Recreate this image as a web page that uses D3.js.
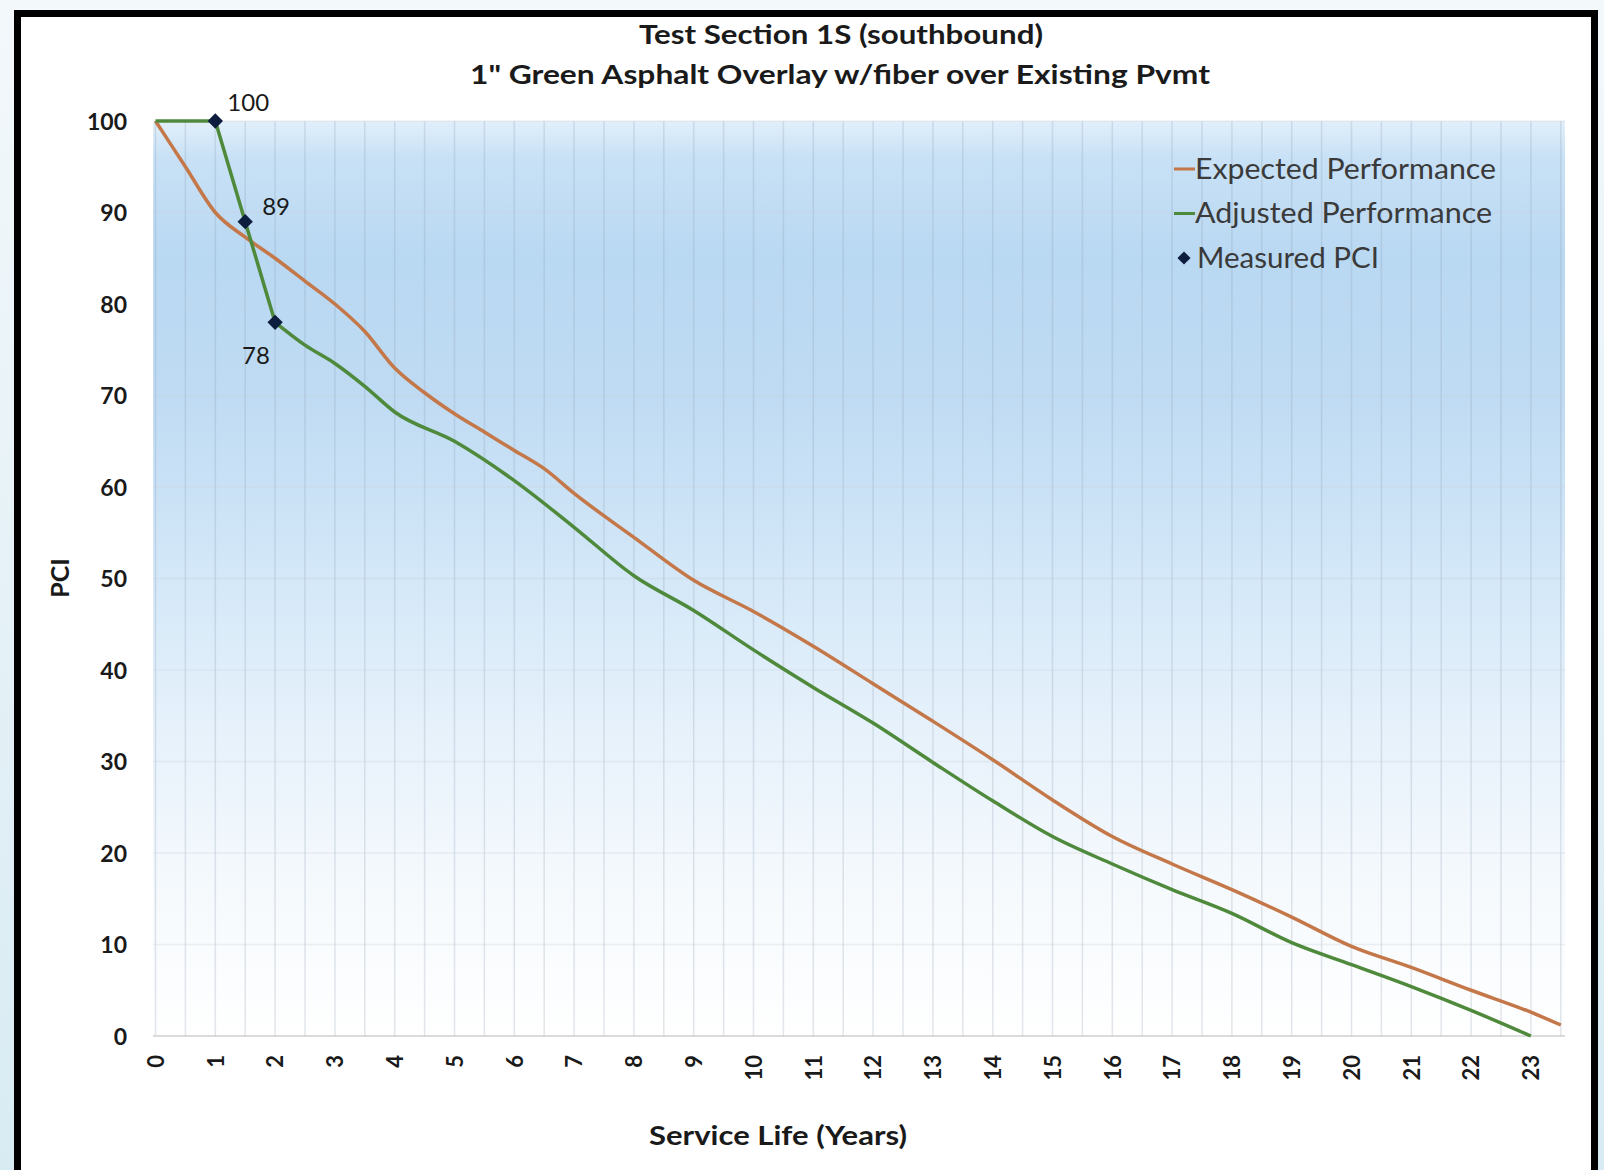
<!DOCTYPE html>
<html>
<head>
<meta charset="utf-8">
<style>
  body { margin: 0; background: #eef5f9; }
  svg { display: block; }
  text { font-family: Lato, "Open Sans", sans-serif; }
</style>
</head>
<body>
<svg></svg>
<script src="https://cdn.jsdelivr.net/npm/d3@7"></script>
<script>

  // expected performance curve (orange)
  const expYears = [0, 0.5, 1, 1.5, 2, 2.5, 3, 3.5, 4, 4.5, 5, 5.5, 6, 6.5, 7, 8, 9, 10, 11, 12, 13, 14, 15, 16, 17, 18, 19, 20, 21, 22, 23, 23.5]
  const expPCI = [100, 95, 90, 87.3, 85, 82.5, 80, 77, 73, 70.3, 68, 66, 64, 62, 59.3, 54.5, 49.8, 46.4, 42.6, 38.5, 34.4, 30.2, 25.8, 21.8, 18.8, 16, 13, 9.8, 7.5, 5, 2.6, 1.2]

  // adjusted performance curve (green)
  const adjYears = [0, 0.5, 1, 1.5, 2, 2.5, 3, 3.5, 4, 5, 6, 7, 8, 9, 10, 11, 12, 13, 14, 15, 16, 17, 18, 19, 20, 21, 22, 23]
  const adjPCI = [100, 100, 100, 89, 78, 75.5, 73.5, 71, 68.2, 65, 60.7, 55.6, 50.3, 46.5, 42.2, 38.1, 34.2, 29.9, 25.7, 21.8, 18.8, 16, 13.4, 10.2, 7.8, 5.4, 2.8, 0]

  // measured PCI points
  const measYears = [1, 1.5, 2]
  const measPCI = [100, 89, 78]

  const xTicks = d3.range(0, 24)
  const yTicks = [0, 10, 20, 30, 40, 50, 60, 70, 80, 90, 100]
  const gridYears = d3.range(0, 24, 0.5)

  const legendLabels = ["Expected Performance", "Adjusted Performance", "Measured PCI"]

  const width = 1604,
        height = 1170,
        colors = {expected: '#c4784a',
                  adjusted: '#4f8a3c',
                  marker: '#0d1d3d',
                  text: '#1a1a1a'}

  const xScale = d3.scaleLinear()
    .domain([0, 23.5])
    .range([155.5, 155.5 + 23.5 * 59.8])

  const yScale = d3.scaleLinear()
    .domain([0, 100])
    .range([1036, 121])

  const svg = d3.select("svg")
    .attr("width", width)
    .attr("height", height)

  const defs = svg.append("defs")

  const pageGrad = defs.append("linearGradient")
    .attr("id", "pageGrad")
    .attr("x1", 0).attr("y1", 0).attr("x2", 0).attr("y2", 1)
  pageGrad.append("stop").attr("offset", "0%").attr("stop-color", "#f3f8fb")
  pageGrad.append("stop").attr("offset", "100%").attr("stop-color", "#d8ebf3")

  const plotGrad = defs.append("linearGradient")
    .attr("id", "plotGrad")
    .attr("x1", 0).attr("y1", 0).attr("x2", 0).attr("y2", 1)
  const plotStops = [
    ["0%", "#e2effa"], ["4%", "#c8e1f6"], ["15%", "#b9d8f2"], ["30%", "#bfdbf3"],
    ["50%", "#d4e8f8"], ["68%", "#e8f2fb"], ["85%", "#f6fafd"], ["100%", "#ffffff"]]
  plotStops.forEach(s => plotGrad.append("stop").attr("offset", s[0]).attr("stop-color", s[1]))

  // page and frame
  svg.append("rect")
    .attr("width", width).attr("height", height)
    .attr("fill", "url(#pageGrad)")
  svg.append("rect")
    .attr("x", 17.5).attr("y", 13.5)
    .attr("width", 1577).attr("height", 1200)
    .attr("fill", "#ffffff")
    .attr("stroke", "#000")
    .attr("stroke-width", 7)

  // plot area
  const plotLeft = xScale(-0.04), plotRight = xScale(23.57)
  svg.append("rect")
    .attr("x", plotLeft).attr("y", yScale(100))
    .attr("width", plotRight - plotLeft)
    .attr("height", yScale(0) - yScale(100))
    .attr("fill", "url(#plotGrad)")

  // gridlines
  svg.append("g").selectAll("line")
    .data(gridYears)
    .join("line")
      .attr("x1", d => xScale(d)).attr("x2", d => xScale(d))
      .attr("y1", yScale(100)).attr("y2", yScale(0))
      .attr("stroke", "rgba(140,155,175,0.25)")
      .attr("stroke-width", 1.5)
  svg.append("g").selectAll("line")
    .data(yTicks)
    .join("line")
      .attr("x1", plotLeft).attr("x2", plotRight)
      .attr("y1", d => yScale(d)).attr("y2", d => yScale(d))
      .attr("stroke", d => d == 0 ? "rgba(190,190,190,0.7)" : "rgba(200,205,215,0.3)")
      .attr("stroke-width", 1.5)

  // y axis
  const yAxis = d3.axisLeft(yScale)
    .tickValues(yTicks)
    .tickSize(0)
    .tickPadding(0)
  const gY = svg.append("g")
    .attr("transform", `translate(127, 0)`)
    .call(yAxis)
  gY.select(".domain").remove()
  gY.selectAll("text")
    .style("font-size", "23px")
    .style("font-weight", "bold")
    .attr("fill", colors.text)
    .attr("dy", "0.35em")

  // x axis
  const xAxis = d3.axisBottom(xScale)
    .tickValues(xTicks)
    .tickSize(0)
    .tickFormat(d3.format("d"))
  const gX = svg.append("g")
    .attr("transform", `translate(0, 1055)`)
    .call(xAxis)
  gX.select(".domain").remove()
  gX.selectAll("text")
    .style("font-size", "22px")
    .style("font-weight", "bold")
    .attr("fill", colors.text)
    .attr("text-anchor", "end")
    .attr("y", 0)
    .attr("dy", "0.35em")
    .attr("transform", "rotate(-90)")

  // lines
  const smooth = d3.line()
    .x(d => xScale(d[0]))
    .y(d => yScale(d[1]))
    .curve(d3.curveMonotoneX)
  const straight = d3.line()
    .x(d => xScale(d[0]))
    .y(d => yScale(d[1]))

  svg.append("path")
    .datum(expYears.map((d, i) => [d, expPCI[i]]))
    .attr("d", smooth)
    .attr("fill", "none")
    .attr("stroke", colors.expected)
    .attr("stroke-width", 3.5)

  // first year of the adjusted line stays flat, then straight drops through the measurements
  const adjData = adjYears.map((d, i) => [d, adjPCI[i]])
  svg.append("path")
    .datum(adjData.filter(d => d[0] <= 2))
    .attr("d", straight)
    .attr("fill", "none")
    .attr("stroke", colors.adjusted)
    .attr("stroke-width", 3.5)
  svg.append("path")
    .datum(adjData.filter(d => d[0] >= 2))
    .attr("d", smooth)
    .attr("fill", "none")
    .attr("stroke", colors.adjusted)
    .attr("stroke-width", 3.5)

  // measured markers
  const diamond = d3.symbol().type(d3.symbolDiamond2).size(150)
  svg.append("g").selectAll("path")
    .data(measYears.map((d, i) => [d, measPCI[i]]))
    .join("path")
      .attr("d", diamond)
      .attr("transform", d => `translate(${xScale(d[0])}, ${yScale(d[1])})`)
      .attr("fill", colors.marker)

  const labelOffsets = [[12, -18], [17, -15], [-33, 33]]
  svg.append("g").selectAll("text")
    .data(measYears.map((d, i) => [d, measPCI[i]]))
    .join("text")
      .attr("x", (d, i) => xScale(d[0]) + labelOffsets[i][0])
      .attr("y", (d, i) => yScale(d[1]) + labelOffsets[i][1])
      .attr("dy", "0.35em")
      .style("font-size", "24px")
      .attr("fill", colors.text)
      .text(d => d[1])

  // titles
  svg.append("text")
    .attr("x", 841).attr("y", 44)
    .attr("text-anchor", "middle")
    .style("font-size", "26px")
    .style("font-weight", "bold")
    .attr("fill", colors.text)
    .attr("textLength", 404)
    .attr("lengthAdjust", "spacingAndGlyphs")
    .text("Test Section 1S (southbound)")
  svg.append("text")
    .attr("x", 840).attr("y", 84)
    .attr("text-anchor", "middle")
    .style("font-size", "26px")
    .style("font-weight", "bold")
    .attr("fill", colors.text)
    .attr("textLength", 740)
    .attr("lengthAdjust", "spacingAndGlyphs")
    .text("1\"  Green Asphalt Overlay w/fiber over Existing Pvmt")

  svg.append("text")
    .attr("transform", `translate(69, 578) rotate(-90)`)
    .attr("text-anchor", "middle")
    .style("font-size", "25px")
    .style("font-weight", "bold")
    .attr("fill", colors.text)
    .text("PCI")

  svg.append("text")
    .attr("x", 778).attr("y", 1145)
    .attr("text-anchor", "middle")
    .style("font-size", "26px")
    .style("font-weight", "bold")
    .attr("fill", colors.text)
    .attr("textLength", 258)
    .attr("lengthAdjust", "spacingAndGlyphs")
    .text("Service Life (Years)")

  // legend
  const legendWidths = [301, 297, 182]
  const legend = svg.append("g")
    .attr("transform", `translate(1174, 169)`)
  const legendRows = legend.selectAll("g")
    .data(legendLabels)
    .join("g")
      .attr("transform", (d, i) => `translate(0, ${i * 44.5})`)
  legendRows.filter((d, i) => i < 2).append("line")
    .attr("x1", 0).attr("x2", 21)
    .attr("stroke", (d, i) => i == 0 ? colors.expected : colors.adjusted)
    .attr("stroke-width", 3)
  legendRows.filter((d, i) => i == 2).append("path")
    .attr("d", d3.symbol().type(d3.symbolDiamond2).size(110))
    .attr("transform", `translate(10, 0)`)
    .attr("fill", colors.marker)
  legendRows.append("text")
    .attr("x", (d, i) => i == 2 ? 23 : 21)
    .attr("dy", "0.35em")
    .style("font-size", "28px")
    .attr("fill", "#3a3a3a")
    .attr("textLength", (d, i) => legendWidths[i])
    .attr("lengthAdjust", "spacingAndGlyphs")
    .text(d => d)

</script>
</body>
</html>
